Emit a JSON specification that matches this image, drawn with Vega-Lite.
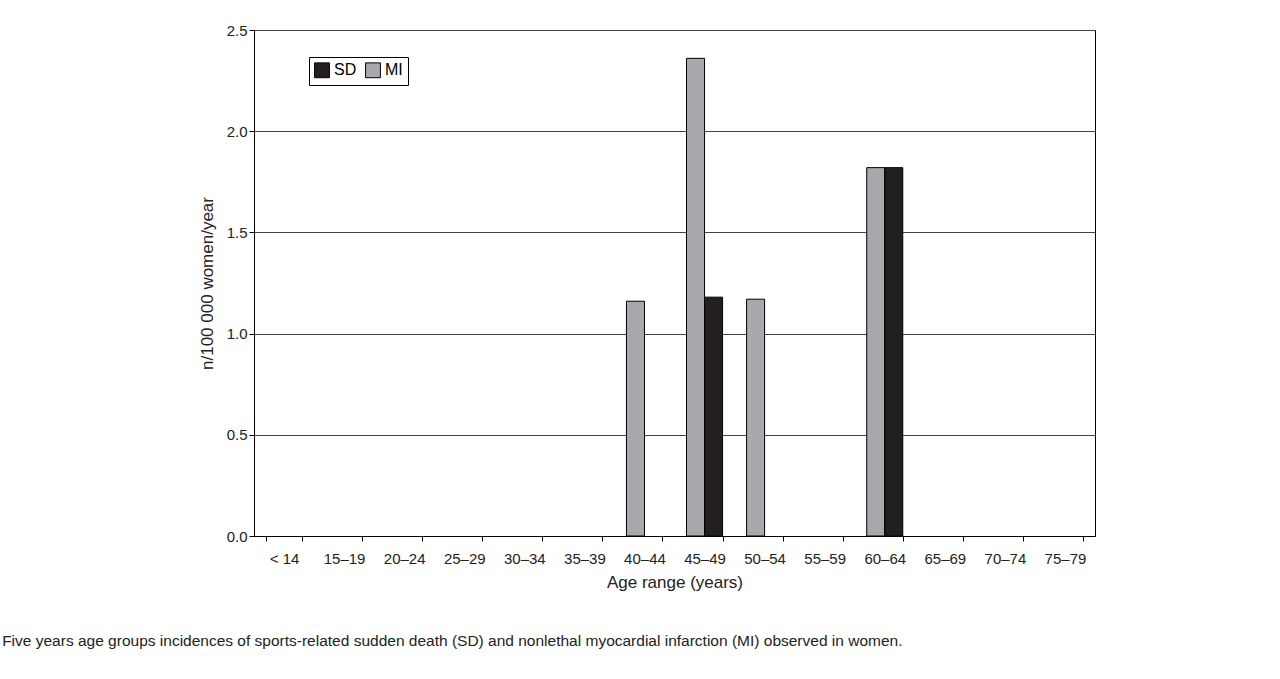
{
"$schema":"https://vega.github.io/schema/vega-lite/v6.json",
"width":841,"height":506,
"autosize":{"type":"none"},
"padding":{"left":254,"top":30,"right":185,"bottom":143},
"background":"white",
"config":{"font":"Liberation Sans","view":{"stroke":"black","strokeWidth":1}},
"title":{"text":"Five years age groups incidences of sports-related sudden death (SD) and nonlethal myocardial infarction (MI) observed in women.","orient":"bottom","anchor":"start","dx":-196,"offset":44,"fontSize":15.5,"fontWeight":"normal","color":"#222"},
"data":{"values":[
{"age":"< 14","type":"MI","v":0},{"age":"15–19","type":"MI","v":0},{"age":"20–24","type":"MI","v":0},{"age":"25–29","type":"MI","v":0},{"age":"30–34","type":"MI","v":0},{"age":"35–39","type":"MI","v":0},
{"age":"40–44","type":"MI","v":1.16},
{"age":"45–49","type":"MI","v":2.36},{"age":"45–49","type":"SD","v":1.18},
{"age":"50–54","type":"MI","v":1.17},
{"age":"55–59","type":"MI","v":0},
{"age":"60–64","type":"MI","v":1.82},{"age":"60–64","type":"SD","v":1.82},
{"age":"65–69","type":"MI","v":0},{"age":"70–74","type":"MI","v":0},{"age":"75–79","type":"MI","v":0}
]},
"transform":[{"filter":"datum.v > 0"}],
"mark":{"type":"bar","stroke":"black","strokeWidth":1},
"encoding":{
"x":{"field":"age","type":"nominal","sort":null,
"scale":{"domain":["< 14","15–19","20–24","25–29","30–34","35–39","40–44","45–49","50–54","55–59","60–64","65–69","70–74","75–79"],"paddingInner":0.4,"paddingOuter":0.2},
"axis":{"labelAngle":0,"title":"Age range (years)","titleFontSize":17,"titleFontWeight":"normal","labelFontSize":15,"labelColor":"#222","titleColor":"#222","tickBand":"extent","domainColor":"black","tickColor":"black","labelPadding":10,"titlePadding":8}},
"xOffset":{"field":"type","type":"nominal","scale":{"domain":["MI","SD"]}},
"y":{"field":"v","type":"quantitative","scale":{"domain":[0,2.5]},
"axis":{"values":[0,0.5,1,1.5,2,2.5],"format":".1f","title":"n/100 000 women/year","titleFontSize":17,"titleFontWeight":"normal","labelFontSize":15,"labelColor":"#222","titleColor":"#222","gridColor":"#444","domainColor":"black","tickColor":"black","titlePadding":10}},
"color":{"field":"type","type":"nominal","scale":{"domain":["SD","MI"],"range":["#231f20","#a7a9ac"]},
"legend":{"title":null,"orient":"none","legendX":55,"legendY":27,"direction":"horizontal","symbolType":"square","symbolSize":220,"symbolStrokeColor":"black","symbolStrokeWidth":1,"labelFontSize":16,"strokeColor":"black","padding":5,"fillColor":"white","columnPadding":6}}
}
}
